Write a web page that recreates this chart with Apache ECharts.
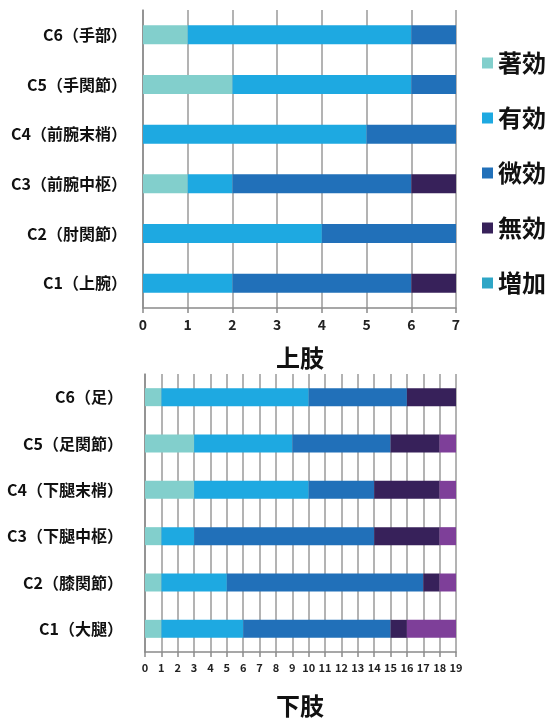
<!DOCTYPE html>
<html><head><meta charset="utf-8">
<script src="https://cdn.jsdelivr.net/npm/echarts@6/dist/echarts.min.js"></script>
<style>html,body{margin:0;padding:0;background:#fff}#c{width:550px;height:718px}</style>
</head><body><div id="c"></div>
<script>
// Upper limb (上肢)
const upperCats = ['C1（上腕）','C2（肘関節）','C3（前腕中枢）','C4（前腕末梢）','C5（手関節）','C6（手部）'];
const upperMarked   = [0, 0, 1, 0, 2, 1];   // 著効
const upperEffect   = [2, 4, 1, 5, 4, 5];   // 有効
const upperSlight   = [4, 3, 4, 2, 1, 1];   // 微効
const upperNone     = [1, 0, 1, 0, 0, 0];   // 無効
const upperIncrease = [0, 0, 0, 0, 0, 0];   // 増加
const upperTicks = [0,1,2,3,4,5,6,7];

// Lower limb (下肢)
const lowerCats = ['C1（大腿）','C2（膝関節）','C3（下腿中枢）','C4（下腿末梢）','C5（足関節）','C6（足）'];
const lowerMarked   = [1, 1, 1, 3, 3, 1];
const lowerEffect   = [5, 4, 2, 7, 6, 9];
const lowerSlight   = [9, 12, 11, 4, 6, 6];
const lowerNone     = [1, 1, 4, 4, 3, 3];
const lowerIncrease = [3, 1, 1, 1, 1, 0];
const lowerTicks = [0,1,2,3,4,5,6,7,8,9,10,11,12,13,14,15,16,17,18,19];

const names = ['著効','有効','微効','無効','増加'];
const colors = ['#82CFCC','#1EA9E1','#2170B9','#37215A','#2EA6C6'];
const lowerIncreaseColor = '#7E3F99';

const font = '"Noto Sans CJK JP", "Noto Sans", sans-serif';
const chart = echarts.init(document.getElementById('c'));

function yAx(idx, cats, margin){
  return {type:'category', gridIndex:idx, data:cats,
    axisLine:{lineStyle:{color:'#8a8a8a', width:1.5}},
    axisTick:{length:6, lineStyle:{color:'#8a8a8a', width:1.5}},
    axisLabel:{fontFamily:font, fontWeight:'bold', fontSize:16, color:'#111', margin:margin},
    splitLine:{show:false}};
}
function xAx(idx, max, fs){
  return {type:'value', gridIndex:idx, min:0, max:max, interval:1,
    axisLine:{show:true, lineStyle:{color:'#8a8a8a', width:1.5}},
    axisTick:{show:true, length:5, lineStyle:{color:'#8a8a8a', width:1.5}},
    axisLabel:{fontFamily:font, fontWeight:'bold', fontSize:fs, color:'#222', margin:10},
    splitLine:{show:true, lineStyle:{color:'#9a9a9a', width:1.5}}};
}
const upperData = [upperMarked, upperEffect, upperSlight, upperNone, upperIncrease];
const lowerData = [lowerMarked, lowerEffect, lowerSlight, lowerNone, lowerIncrease];
const series = [];
names.forEach((n,i)=>{
  series.push({name:n, type:'bar', stack:'u', xAxisIndex:0, yAxisIndex:0, barWidth:19,
    data:upperData[i], itemStyle:{color:colors[i]}});
});
names.forEach((n,i)=>{
  series.push({name:n, type:'bar', stack:'l', xAxisIndex:1, yAxisIndex:1, barWidth:18,
    data:lowerData[i], itemStyle:{color: i===4 ? lowerIncreaseColor : colors[i]}});
});

chart.setOption({
  animation:false,
  title:[
    {text:'上肢', left:295, top:341, textAlign:'center', textStyle:{fontFamily:font, fontSize:24, fontWeight:'bold', color:'#111'}},
    {text:'下肢', left:295, top:689, textAlign:'center', textStyle:{fontFamily:font, fontSize:24, fontWeight:'bold', color:'#111'}}
  ],
  legend:{orient:'vertical', left:477, top:46, itemWidth:11, itemHeight:11, itemGap:31, icon:'rect',
    data:names, textStyle:{fontFamily:font, fontSize:24, fontWeight:'bold', color:'#111'}, selectedMode:false},
  grid:[
    {left:143, right:94, top:10, height:298},
    {left:145, right:94, top:374, height:278}
  ],
  xAxis:[xAx(0,7,14), xAx(1,19,11)],
  yAxis:[yAx(0, upperCats, 16), yAx(1, lowerCats, 22)],
  series:series
});
</script></body></html>
